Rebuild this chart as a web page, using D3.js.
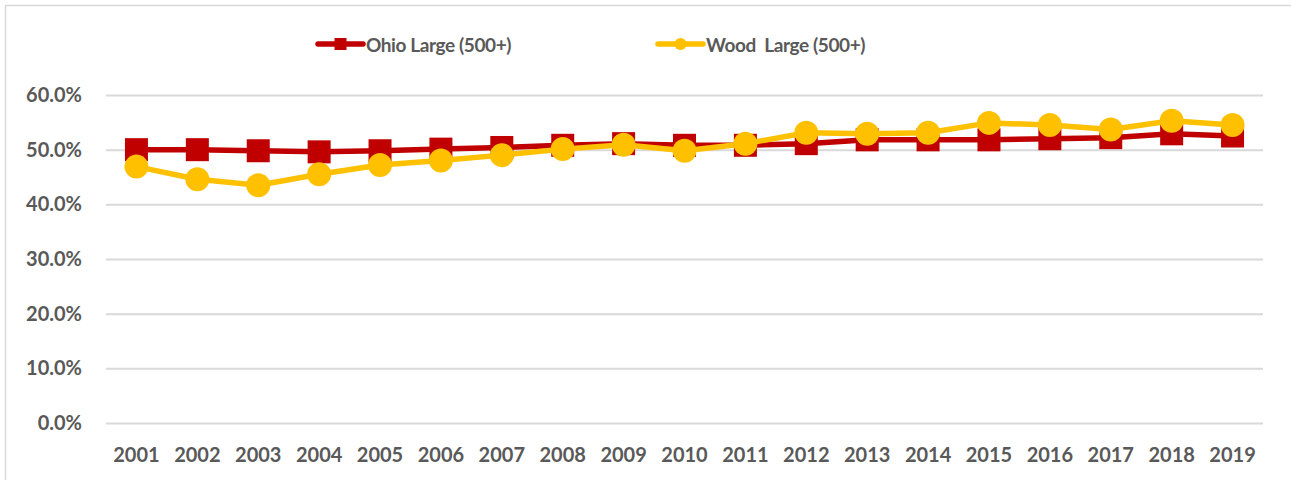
<!DOCTYPE html>
<html>
<head>
<meta charset="utf-8">
<script src="https://cdn.jsdelivr.net/npm/d3@7"></script>
<style>
  html, body { margin: 0; padding: 0; background: #fff; }
  svg { display: block; }
  text { font-family: Lato, "Open Sans", sans-serif; font-weight: bold; fill: #595959; }
</style>
</head>
<body>
<div id="chart"></div>
<script>
const years = ["2001","2002","2003","2004","2005","2006","2007","2008","2009","2010","2011","2012","2013","2014","2015","2016","2017","2018","2019"];
const ohioLarge = [50.0, 50.0, 49.8, 49.6, 49.8, 50.1, 50.4, 50.8, 51.1, 50.8, 50.8, 51.1, 51.8, 51.8, 51.8, 52.0, 52.2, 52.9, 52.5];
const woodLarge = [46.9, 44.6, 43.5, 45.5, 47.2, 48.0, 49.0, 50.1, 50.9, 49.8, 51.1, 53.1, 52.9, 53.1, 54.9, 54.5, 53.7, 55.3, 54.5];
const yTicks = [0, 10, 20, 30, 40, 50, 60];
const seriesNames = ["Ohio Large (500+)", "Wood\u00A0 Large (500+)"];
const seriesColors = ["#C00000", "#FFC000"];

const W = 1291, H = 480;
const svg = d3.select("#chart").append("svg").attr("width", W).attr("height", H);

// chart area border
svg.append("rect").attr("x", 5.5).attr("y", 5.5).attr("width", 1400).attr("height", 600)
  .attr("fill", "none").attr("stroke", "#d9d9d9").attr("stroke-width", 1.5);

const plotLeft = 106, plotRight = 1263, plotTop = 95, plotBottom = 423;

const x = d3.scaleBand().domain(years).range([plotLeft, plotRight]);
const y = d3.scaleLinear().domain([0, 60]).range([plotBottom, plotTop]);

// gridlines + y labels
const yAxis = d3.axisLeft(y).tickValues(yTicks).tickSize(-(plotRight - plotLeft))
  .tickFormat(d => d3.format(".1f")(d) + "%").tickPadding(24);
const gy = svg.append("g").attr("transform", `translate(${plotLeft},0)`).call(yAxis);
gy.select(".domain").remove();
gy.selectAll(".tick line").attr("stroke", "#d9d9d9").attr("stroke-width", 2);
gy.selectAll(".tick text").attr("font-size", 20).attr("fill", "#595959")
  .attr("font-family", "Lato, sans-serif").attr("font-weight", "bold");

const xAxis = d3.axisBottom(x).tickSize(0).tickPadding(25);
const gx = svg.append("g").attr("transform", `translate(0,${plotBottom})`).call(xAxis);
gx.select(".domain").remove();
gx.selectAll(".tick text").attr("font-size", 20).attr("fill", "#595959")
  .attr("font-family", "Lato, sans-serif").attr("font-weight", "bold");

const cx = d => x(d) + x.bandwidth() / 2;
const line = d3.line().x((d, i) => cx(years[i])).y(d => y(d));

// Ohio series
svg.append("path").datum(ohioLarge).attr("d", line).attr("fill", "none")
  .attr("stroke", seriesColors[0]).attr("stroke-width", 5.5).attr("stroke-linejoin", "round");
const sq = 23;
svg.append("g").selectAll("rect").data(ohioLarge).join("rect")
  .attr("x", (d, i) => cx(years[i]) - sq / 2).attr("y", d => y(d) - sq / 2)
  .attr("width", sq).attr("height", sq).attr("fill", seriesColors[0]);

// Wood series
svg.append("path").datum(woodLarge).attr("d", line).attr("fill", "none")
  .attr("stroke", seriesColors[1]).attr("stroke-width", 5.5).attr("stroke-linejoin", "round");
svg.append("g").selectAll("circle").data(woodLarge).join("circle")
  .attr("cx", (d, i) => cx(years[i])).attr("cy", d => y(d)).attr("r", 12)
  .attr("fill", seriesColors[1]);

// legend
const legend = svg.append("g");
const legItems = [
  { name: seriesNames[0], color: seriesColors[0], x0: 318, shape: "square" },
  { name: seriesNames[1], color: seriesColors[1], x0: 658, shape: "circle" }
];
const ly = 44;
legItems.forEach(it => {
  legend.append("line").attr("x1", it.x0).attr("x2", it.x0 + 45).attr("y1", ly).attr("y2", ly)
    .attr("stroke", it.color).attr("stroke-width", 5.5).attr("stroke-linecap", "round");
  if (it.shape === "square") {
    legend.append("rect").attr("x", it.x0 + 22.5 - 6).attr("y", ly - 6).attr("width", 12).attr("height", 12).attr("fill", it.color);
  } else {
    legend.append("circle").attr("cx", it.x0 + 22.5).attr("cy", ly).attr("r", 6).attr("fill", it.color);
  }
  legend.append("text").attr("x", it.x0 + 48).attr("y", ly + 1).attr("dy", "0.35em")
    .attr("font-size", 19).attr("letter-spacing", -0.4).text(it.name);
});
</script>
</body>
</html>
